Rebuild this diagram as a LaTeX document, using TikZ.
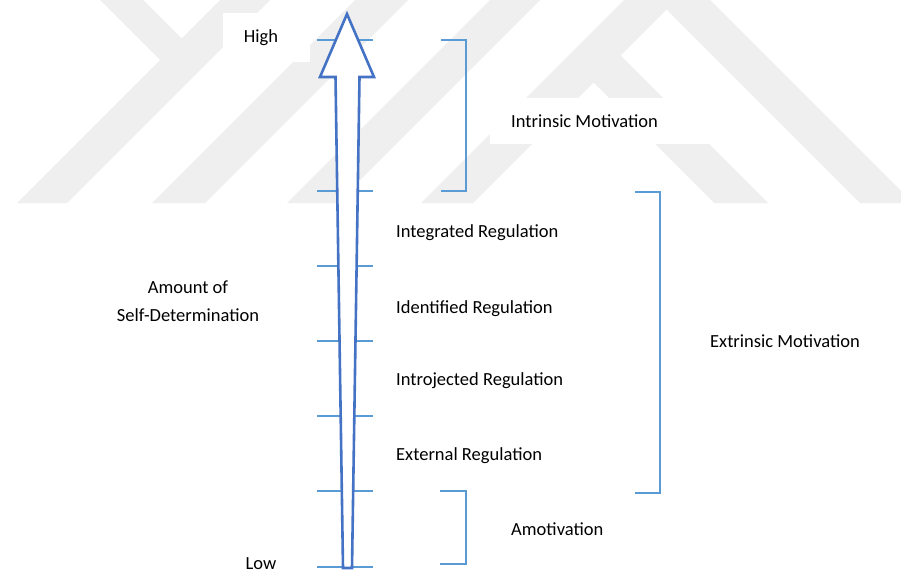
\documentclass[tikz,border=0pt]{standalone}
\usepackage{fontspec}
\setmainfont{Carlito}
\definecolor{arrowblue}{HTML}{4472C4}
\definecolor{tickblue}{HTML}{5B9BD5}
\definecolor{wm}{RGB}{239,239,239}
\tikzset{
  lbl/.style={inner sep=0pt, font=\fontsize{18.5}{22}\selectfont, text=black},
  tickline/.style={draw=tickblue, line width=1.4pt},
  bracket/.style={draw=tickblue, line width=1.4pt},
  bigarrow/.style={draw=arrowblue, fill=white, line width=2.6pt, line join=miter},
  wmark/.style={fill=wm, draw=none},
  whitebox/.style={fill=white, draw=none}
}
\begin{document}
\begin{tikzpicture}[x=1pt,y=-1pt]
\useasboundingbox (0,0) rectangle (901,572);
\fill[white] (0,0) rectangle (901,572);
% watermark
\begin{scope}
\clip (0,0) rectangle (901,572);
\fill[wmark] (220,0) -- (270,0) -- (67,203) -- (17,203) -- cycle;
\fill[wmark] (100,0) -- (143,0) -- (196.5,53.5) -- (175,75) -- cycle;
\fill[wmark] (355,0) -- (408,0) -- (205,203) -- (152,203) -- cycle;
\fill[wmark] (490,0) -- (540,0) -- (337,203) -- (287,203) -- cycle;
\fill[wmark] (624,0) -- (676,0) -- (473,203) -- (421,203) -- cycle;
\fill[wmark] (585.5,74.5) -- (612.5,47.5) -- (768,203) -- (714,203) -- cycle;
\fill[wmark] (657,0) -- (710,0) -- (913,203) -- (860,203) -- cycle;
\end{scope}
% white label backgrounds
\fill[whitebox] (223,13) rectangle (310,62);
\fill[whitebox] (490,98) rectangle (712,144);
% ticks
\foreach \ty in {40,191,266,341,416,491,567}{
  \draw[tickline] (317,\ty) -- (373,\ty);
}
% arrow
\draw[bigarrow] (347,14) -- (374,77) -- (359.5,77) -- (352,568) -- (343,568) -- (335.5,77) -- (320,77) -- cycle;
% brackets
\draw[bracket] (441,40) -| (466,191) -- (441,191);
\draw[bracket] (635,192) -| (660,493) -- (635,493);
\draw[bracket] (440,491) -| (466,564) -- (440,564);
% labels
\node[lbl, anchor=base] (high) at (261,43) {High};
\node[lbl, anchor=base] (low) at (261,569) {Low};
\node[lbl, anchor=base west] (intr) at (511,128) {Intrinsic Motivation};
\node[lbl, anchor=base west] (integ) at (396,237) {Integrated Regulation};
\node[lbl, anchor=base west] (ident) at (396,313) {Identified Regulation};
\node[lbl, anchor=base west] (introj) at (396,385) {Introjected Regulation};
\node[lbl, anchor=base west] (ext) at (396,460) {External Regulation};
\node[lbl, anchor=base west] (amot) at (511,535) {Amotivation};
\node[lbl, anchor=base west] (extr) at (710,347) {Extrinsic Motivation};
\node[lbl, anchor=base] (amt1) at (188,293) {Amount of};
\node[lbl, anchor=base] (amt2) at (188,321.5) {Self-Determination};
\end{tikzpicture}
\end{document}
